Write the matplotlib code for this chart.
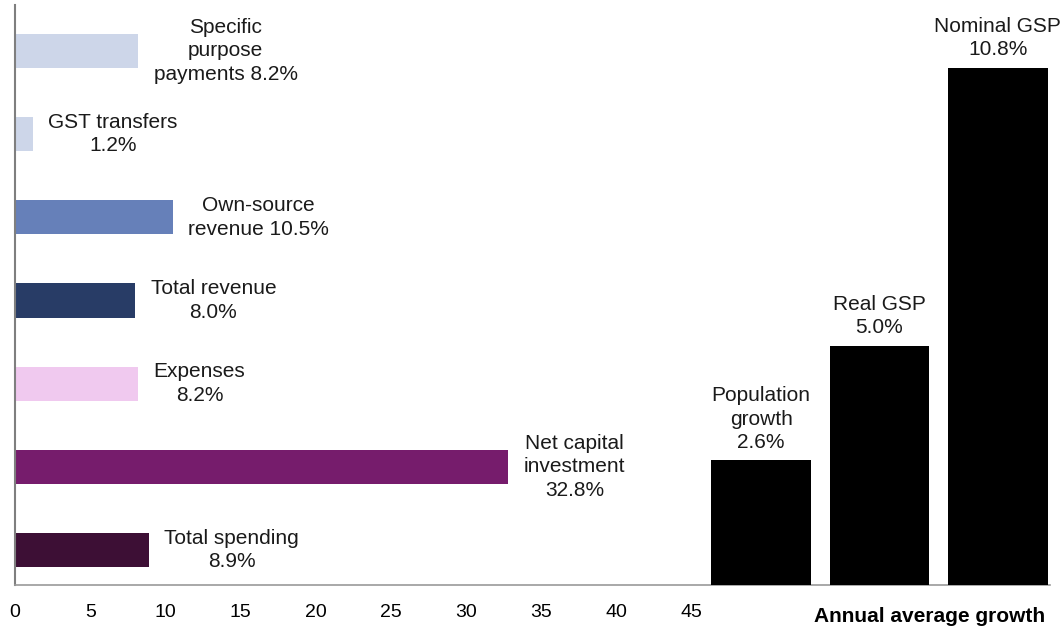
import matplotlib.pyplot as plt

plt.rcParams['font.family'] = ['Liberation Sans', 'DejaVu Sans']

# Left panel: horizontal bars (annual average growth, %)
labels = ['Specific\npurpose\npayments 8.2%', 'GST transfers\n1.2%', 'Own-source\nrevenue 10.5%',
          'Total revenue\n8.0%', 'Expenses\n8.2%', 'Net capital\ninvestment\n32.8%',
          'Total spending\n8.9%']
values = [8.2, 1.2, 10.5, 8.0, 8.2, 32.8, 8.9]
colors = ['#cdd6e9', '#cdd6e9', '#6680b9', '#283c66', '#f0c9ef', '#761c6c', '#3d0f35']
xticks = [0, 5, 10, 15, 20, 25, 30, 35, 40, 45]

# Right panel: vertical bars
econ_labels = ['Population\ngrowth\n2.6%', 'Real GSP\n5.0%', 'Nominal GSP\n10.8%']
econ_values = [2.6, 5.0, 10.8]

fig = plt.figure(figsize=(10.64, 6.30), dpi=100)
W, H = 1064, 630

# main axes: pixel 15 -> 1050 horizontally, 5 -> 585 vertically
ax = fig.add_axes([15 / W, 45 / H, 1035 / W, 580 / H])
ypos = list(range(len(values)))
ax.barh(ypos, values, height=0.41, color=colors)
ax.set_ylim(6.42, -0.553)
ax.set_xlim(0, 1035 / 15.04)
ax.set_xticks(xticks)
ax.set_xticklabels([str(t) for t in xticks], fontsize=14)
ax.tick_params(axis='x', length=0, pad=14)
ax.set_yticks([])
for s in ['top', 'right']:
    ax.spines[s].set_visible(False)
ax.spines['left'].set_color('#7f7f7f')
ax.spines['bottom'].set_color('#9a9a9a')
ax.spines['left'].set_linewidth(1.5)
ax.spines['bottom'].set_linewidth(1.2)

for y, v, lab in zip(ypos, values, labels):
    ax.annotate(lab, (v, y), xytext=(11, 0), textcoords='offset points',
                ha='left', va='center', multialignment='center', fontsize=15,
                linespacing=1.3, color='#1a1a1a')

# right axes for the vertical bars
ax2 = fig.add_axes([702 / W, 45 / H, 355 / W, 580 / H])
ax2.patch.set_visible(False)
xs = list(range(len(econ_values)))
ax2.bar(xs, econ_values, width=0.84, color='black')
ax2.set_xlim(-0.5, 2.5)
ax2.set_ylim(0, 580 / 47.9)
ax2.axis('off')
for x, v, lab in zip(xs, econ_values, econ_labels):
    ax2.annotate(lab, (x, v), xytext=(0, 6), textcoords='offset points',
                 ha='center', va='bottom', multialignment='center', fontsize=15,
                 linespacing=1.3, color='#1a1a1a')

fig.text(930 / W, 1 - 617 / H, 'Annual average growth', ha='center', va='center',
         fontsize=15, fontweight='bold')

fig.savefig('out.png', dpi=100)
